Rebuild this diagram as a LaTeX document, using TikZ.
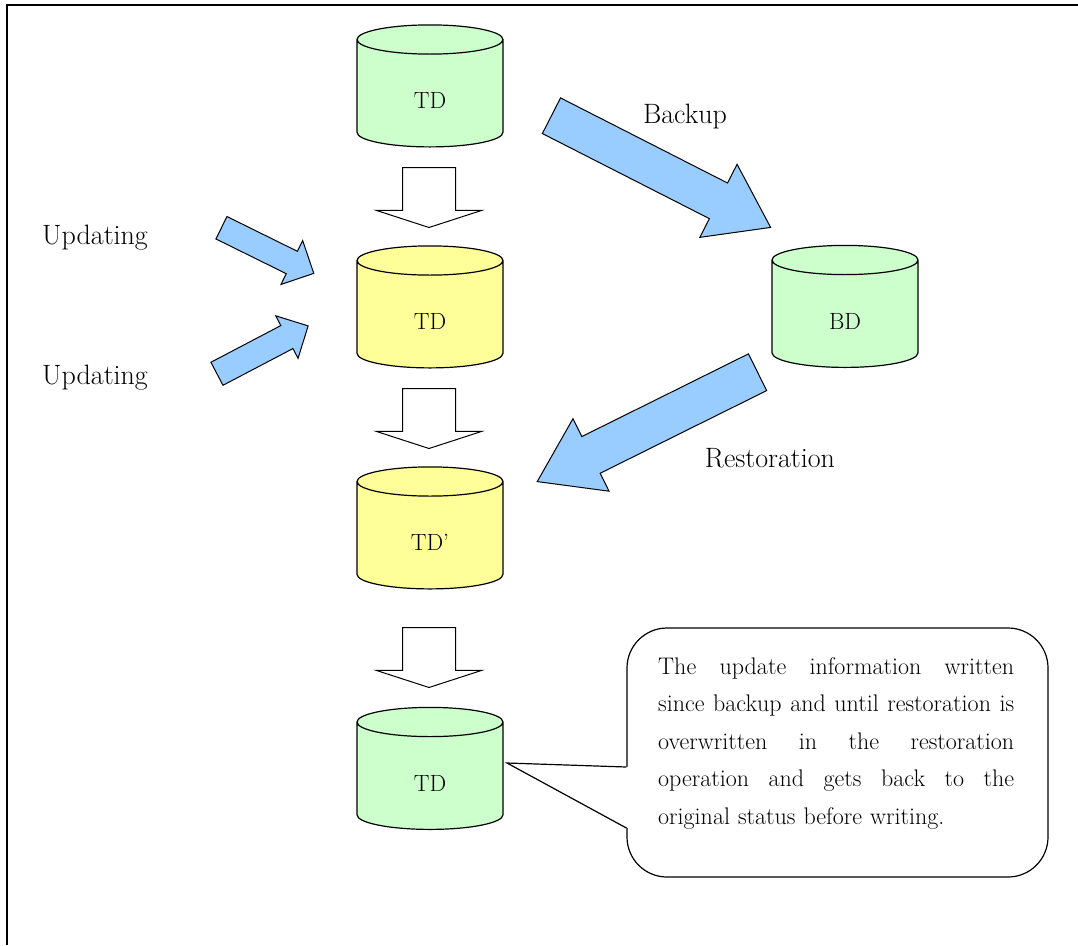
\documentclass[tikz,border=0pt]{standalone}
\usepackage{tikz}
\usetikzlibrary{shapes,arrows,positioning,calc}
\definecolor{diskgreen}{RGB}{204,255,204}
\definecolor{diskyellow}{RGB}{255,255,153}
\definecolor{flowblue}{RGB}{153,204,255}

\begin{document}
\begin{tikzpicture}[x=1pt, y=-1pt,
        disk/.style={draw, line width=1.2pt, cylinder, shape border rotate=90, aspect=0.2,
            minimum width=146pt, minimum height=122pt, inner sep=0pt,
            text width=146pt, align=center, text height=30pt, text depth=0pt,
            font=\fontsize{23.5}{26}\selectfont},
        lbl/.style={font=\fontsize{28}{32}\selectfont},
        downarrow/.style={draw, line width=1pt, fill=white, single arrow, rotate=-90, anchor=tail,
            minimum height=60pt, inner xsep=0pt, inner ysep=26pt,
            single arrow head extend=26.5pt, single arrow tip angle=144},
        bluearrow/.style={draw, line width=1pt, fill=flowblue, single arrow, anchor=tail, inner xsep=0pt}]
        \useasboundingbox (0,0) rectangle (1078,945);
        \draw[line width=2.5pt] (7,945) -- (7,5) -- (1078,5);

        \node[disk, fill=diskgreen] (td) at (430,93.5) {TD};
        \node[disk, fill=diskyellow] (tdupd) at (430,314.5) {TD};
        \node[disk, fill=diskyellow] (tdrest) at (430,535.5) {TD'};
        \node[disk, fill=diskgreen] (tdback) at (430,776) {TD};
        \node[disk, fill=diskgreen] (bd) at (845,314) {BD};

        \node[downarrow] (step1) at (429,167) {};
        \node[downarrow] (step2) at (429,388) {};
        \node[downarrow] (step3) at (429,627) {};

        \node[bluearrow, rotate=-27, minimum height=246pt, inner ysep=19.5pt,
            single arrow head extend=21pt, single arrow tip angle=70] (backup) at (551,115.5) {};
        \node[bluearrow, rotate=206.4, minimum height=246pt, inner ysep=20pt,
            single arrow head extend=20pt, single arrow tip angle=68] (restore) at (758,372) {};
        \node[bluearrow, rotate=-26.3, minimum height=103pt, inner ysep=12pt,
            single arrow head extend=12pt, single arrow tip angle=90] (upd1) at (221,227.5) {};
        \node[bluearrow, rotate=27.7, minimum height=103pt, inner ysep=12.5pt,
            single arrow head extend=11pt, single arrow tip angle=90] (upd2) at (216.5,374) {};

        \node[lbl] (backuptxt) at (685,117) {Backup};
        \node[lbl] (restoretxt) at (770,458) {Restoration};
        \node[lbl] (updtxt1) at (95,238) {Updating};
        \node[lbl] (updtxt2) at (95,378) {Updating};

        \node[draw, line width=1.2pt, rounded corners=40pt, minimum width=421pt, minimum height=249pt] (note) at (837.5,752.5) {};
        \coordinate (tip) at (507,763);
        \fill[white] (tip) -- ($(note.west)+(1.5,14.5)$) -- ($(note.west)+(1.5,75.5)$) -- cycle;
        \draw[line width=1.2pt] ($(note.west)+(0,14.5)$) -- (tip) -- ($(note.west)+(0,75.5)$);
        \node[anchor=north west, inner sep=0pt, text width=356pt, font=\fontsize{24}{37.5}\selectfont] (notetext) at (658,657) {%
            \makebox[356pt][l]{The\hfill update\hfill information\hfill written}\\
            \makebox[356pt][l]{since\hfill backup\hfill and\hfill until\hfill restoration\hfill is}\\
            \makebox[356pt][l]{overwritten\hfill in\hfill the\hfill restoration}\\
            \makebox[356pt][l]{operation\hfill and\hfill gets\hfill back\hfill to\hfill the}\\
            original status before writing.};
    \end{tikzpicture}
\end{document}
